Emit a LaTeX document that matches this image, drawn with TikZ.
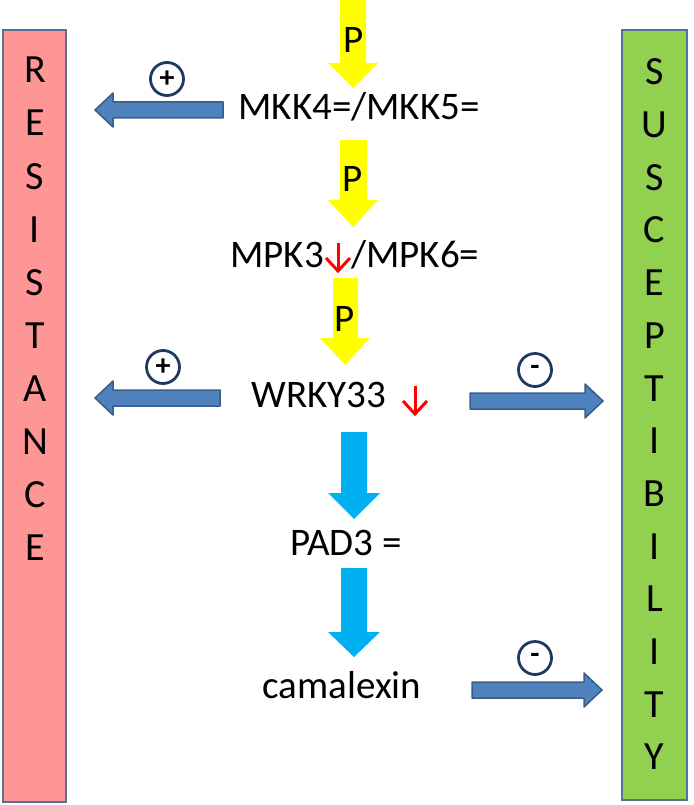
\documentclass[tikz,border=0pt]{standalone}
\usepackage{fontspec}
\setmainfont{Carlito}
\definecolor{boxred}{HTML}{FF9696}
\definecolor{boxgreen}{HTML}{92D050}
\definecolor{boxline}{HTML}{5A6E9C}
\definecolor{steel}{HTML}{4F81BD}
\definecolor{steelline}{HTML}{385D8A}
\definecolor{pyellow}{HTML}{FFFF00}
\definecolor{pcyan}{HTML}{00B0F0}
\definecolor{navy}{HTML}{1F3A60}
\newcommand\bigtext{\fontsize{39}{42}\selectfont}
\newcommand\boxtext{\fontsize{40}{44}\selectfont}
\newcommand\signtext{\bfseries\fontsize{30}{30}\selectfont}
\begin{document}
\begin{tikzpicture}[x=1pt,y=-1pt,
  lab/.style={font=\bigtext, inner sep=0pt, anchor=base},
  boxletter/.style={font=\boxtext, inner sep=0pt},
  sidebox/.style={draw=boxline, line width=2pt},
  steelarrow/.style={fill=steel, draw=steelline, line width=1.5pt, line join=round},
  yarrow/.style={fill=pyellow},
  carrow/.style={fill=pcyan},
  signcircle/.style={circle, draw=navy, line width=2.8pt, minimum size=33pt, inner sep=0pt, font=\signtext},
  redarrow/.style={draw=red, line width=3pt}
]
\useasboundingbox (0,0) rectangle (693,805);

% side boxes
\draw[sidebox, fill=boxred] (3,30) rectangle (66,802);
\draw[sidebox, fill=boxgreen] (622,30) rectangle (687,800);
\foreach \l [count=\i from 0] in {R,E,S,I,S,T,A,N,C,E}
  \node[boxletter] at (35,{70+53.1*\i}) {\l};
\foreach \l [count=\i from 0] in {S,U,S,C,E,P,T,I,B,I,L,I,T,Y}
  \node[boxletter] at (654.5,{72+52.7*\i}) {\l};

% yellow phosphorylation arrows
\fill[yarrow] (340,0) -- (366,0) -- (366,63) -- (378,63) -- (353,88) -- (328,63) -- (340,63) -- cycle;
\node[lab] (p1) at (354,53) {P};
\fill[yarrow] (340,140) -- (367,140) -- (367,200) -- (378,200) -- (353,227) -- (328,200) -- (340,200) -- cycle;
\node[lab] (p2) at (353,191) {P};
\fill[yarrow] (333,278) -- (358,278) -- (358,338) -- (370,338) -- (345,365) -- (320,338) -- (333,338) -- cycle;
\node[lab] (p3) at (345,331) {P};

% text nodes
\node[lab] (mkk) at (359,120) {MKK4=/MKK5=};
\node[lab, anchor=base east] (mpka) at (324,267) {MPK3};
\node[lab, anchor=base west] (mpkb) at (351,267) {/MPK6=};
\node[lab] (wrky) at (319,407) {WRKY33};
\node[lab] (pad) at (346,555) {PAD3 =};
\node[lab] (cam) at (342,698) {camalexin};

% red down arrows
\draw[redarrow] (338,243) -- (338,271);
\draw[redarrow, line join=miter] (326,258) -- (338,271) -- (350,258);
\draw[redarrow] (415,386) -- (415,414);
\draw[redarrow, line join=miter] (403,401) -- (415,414) -- (427,401);

% cyan arrows
\fill[carrow] (341,432) -- (367,432) -- (367,493) -- (380,493) -- (354,519) -- (328,493) -- (341,493) -- cycle;
\fill[carrow] (341,568) -- (367,568) -- (367,632) -- (380,632) -- (354,657) -- (328,632) -- (341,632) -- cycle;

% steel blue effect arrows
\draw[steelarrow] (223,102) -- (113,102) -- (113,93) -- (95,110) -- (113,127) -- (113,118) -- (223,118) -- cycle;
\draw[steelarrow] (220,390) -- (113,390) -- (113,381) -- (95,398) -- (113,415) -- (113,406) -- (220,406) -- cycle;
\draw[steelarrow] (470,393) -- (585,393) -- (585,384) -- (603,401) -- (585,418) -- (585,409) -- (470,409) -- cycle;
\draw[steelarrow] (472,682) -- (584,682) -- (584,673) -- (602,690) -- (584,707) -- (584,698) -- (472,698) -- cycle;

% sign circles
\node[signcircle] (s1) at (167,79) {+};
\node[signcircle] (s2) at (163,367) {+};
\node[signcircle] (s3) at (535,370) {-};
\node[signcircle] (s4) at (535,658) {-};
\end{tikzpicture}
\end{document}
